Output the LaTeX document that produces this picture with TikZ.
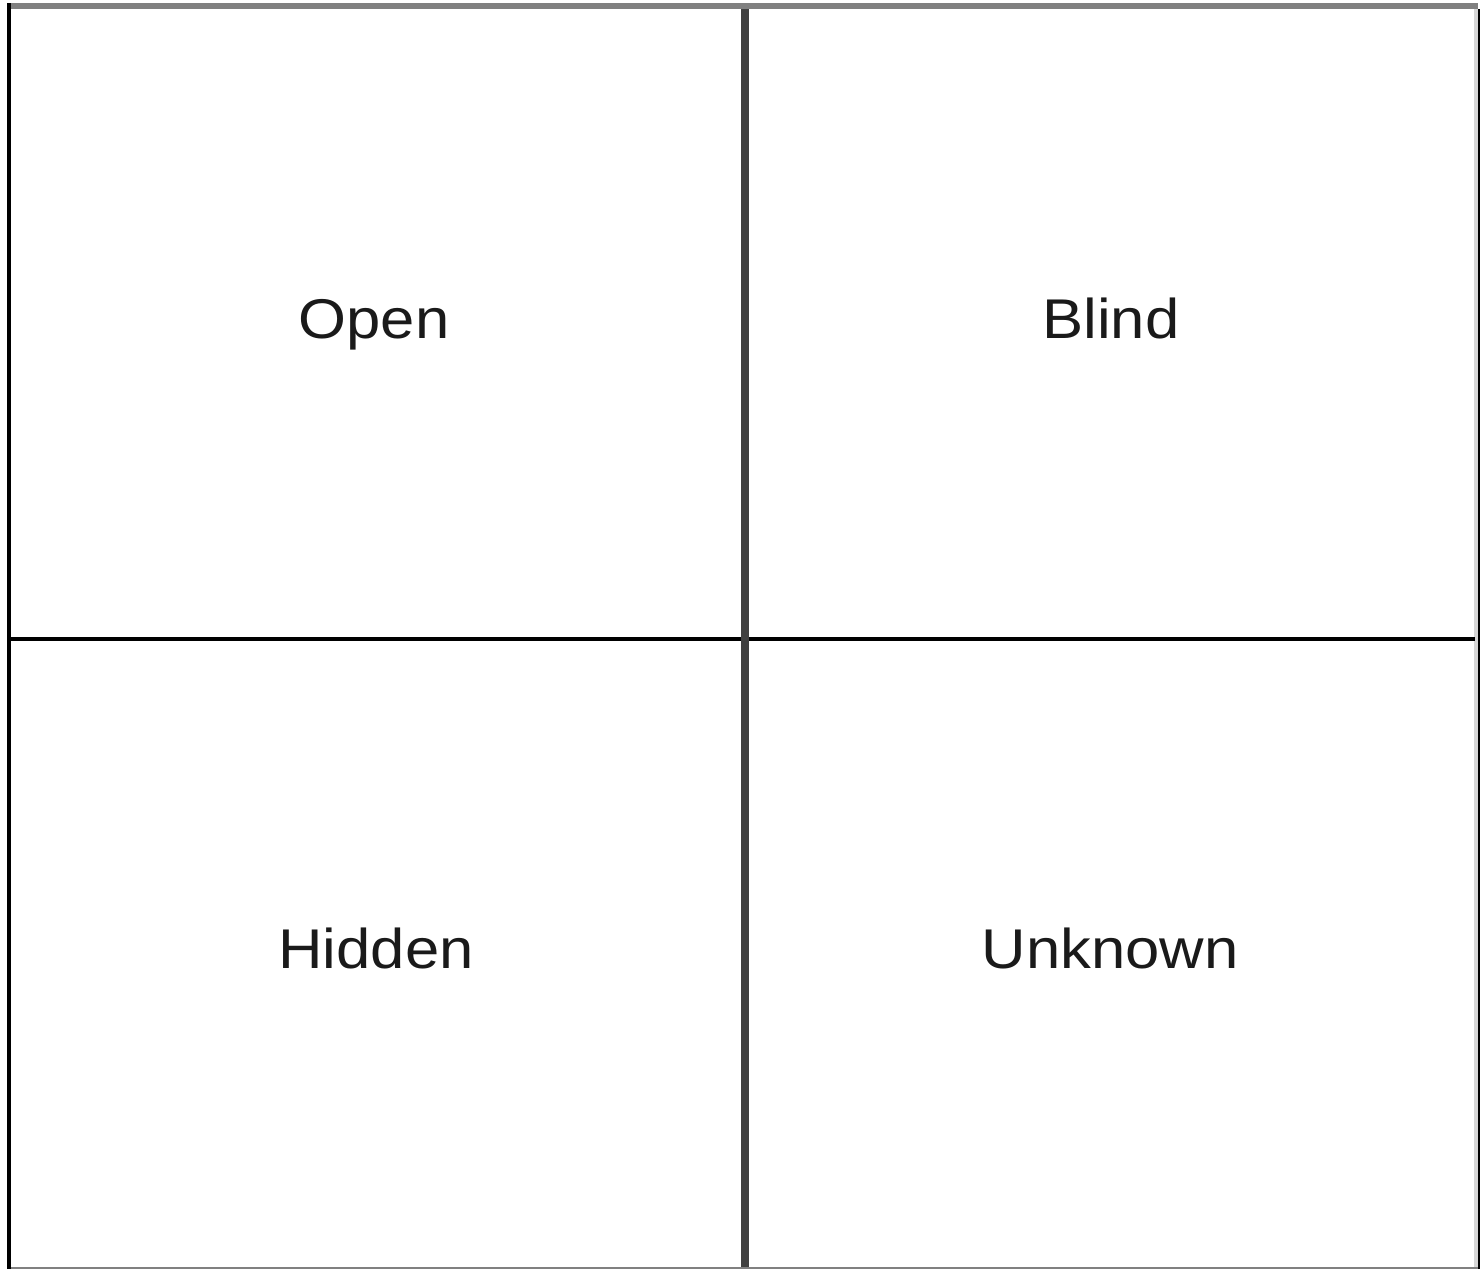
\documentclass[tikz,border=0pt]{standalone}
\usepackage{fontspec}
\setmainfont[FakeStretch=1.1]{Liberation Sans}
\usepackage{tikz}
\usetikzlibrary{positioning}
\definecolor{frameGrey}{RGB}{128,128,128}
\definecolor{paleGrey}{RGB}{214,214,214}
\definecolor{splitGrey}{RGB}{64,64,64}
\definecolor{labelInk}{RGB}{26,26,26}

\begin{document}
\begin{tikzpicture}[
  x=0.5pt, y=-0.5pt,
  quadlabel/.style={labelInk, anchor=base, font=\fontsize{28}{34}\selectfont, inner sep=0pt},
]
\useasboundingbox (0,0) rectangle (1480,1269);
\fill[white] (0,0) rectangle (1480,1269);

% --- Outer frame ---------------------------------------------------
\draw[frameGrey, line width=3pt] (7,6) -- (1478,6);
\draw[frameGrey, line width=1.2pt] (9,1268) -- (1478,1268);
\draw[black, line width=2pt] (9,3) -- (9,1269);
\draw[paleGrey, line width=2pt] (1476,9) -- (1476,1267);
\draw[black, line width=1pt] (1479,9) -- (1479,1269);

% --- Quadrant split ------------------------------------------------
\draw[black, line width=2pt] (11,638.5) -- (1475,638.5);
\draw[splitGrey, line width=4pt] (745,9) -- (745,1267);

% Quadrant labels (placed on their baselines)
\node[quadlabel] (open)    at (374,338) {Open};
\node[quadlabel] (blind)   at (1111,338) {Blind};
\node[quadlabel] (hidden)  at (376,968) {Hidden};
\node[quadlabel] (unknown) at (1110,968) {Unknown};
\end{tikzpicture}
\end{document}
